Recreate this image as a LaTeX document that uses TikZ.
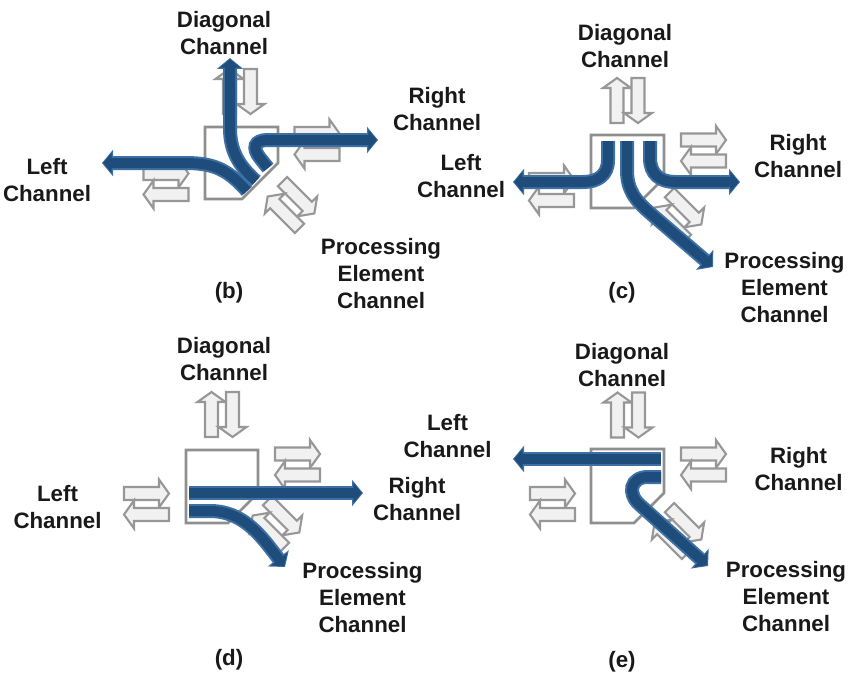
\documentclass[tikz,border=0pt]{standalone}
\usepackage{fontspec}
\setmainfont{Liberation Sans}
\usetikzlibrary{arrows.meta}
\definecolor{blueout}{HTML}{3F70A3}
\definecolor{bluein}{HTML}{1E4D7C}
\definecolor{pairline}{HTML}{979797}
\definecolor{pairfill}{HTML}{F1F1F1}
\definecolor{boxline}{HTML}{8F8F8F}
\tikzset{
 lbl/.style={font=\bfseries\fontsize{22.3}{27}\selectfont, align=center, inner sep=0pt, text=black!90},
 hollow/.style={draw=pairline, fill=pairfill, line width=2.1pt, line join=miter},
 routerbox/.style={draw=boxline, line width=2.8pt, line join=miter},
 flowout/.style={draw=blueout, line width=14pt, -{Triangle[width=26pt,length=11pt]}},
 flowin/.style={draw=bluein, line width=10pt, -{Triangle[width=20pt,length=8.5pt]}, shorten >=1.2pt},
}
\newcommand\chpair[3]{%
 \begin{scope}[shift={(#1,#2)},rotate=#3]
  \draw[hollow] (-22.5,-17) -- (12.5,-17) -- (12.5,-24.5) -- (22.5,-10.5) -- (12.5,3.5) -- (12.5,-4) -- (-22.5,-4) -- cycle;
  \draw[hollow] (22.5,4) -- (-12.5,4) -- (-12.5,-3.5) -- (-22.5,10.5) -- (-12.5,24.5) -- (-12.5,17) -- (22.5,17) -- cycle;
 \end{scope}}
\newcommand\routerbox[5]{%
 \draw[routerbox] (#1,#2) -- (#3,#2) -- (#3,{#4-#5}) -- ({#3-#5},#4) -- (#1,#4) -- cycle;}
\newcommand\flowpath[1]{\draw[flowout] #1; \draw[flowin] #1;}
\begin{document}
\begin{tikzpicture}[x=1pt,y=-1pt]
\useasboundingbox (0,0) rectangle (852,677);
% ---------- panel (b) ----------
\chpair{240}{91.5}{90}
\chpair{317}{144}{0}
\chpair{166}{184}{0}
\chpair{291}{205}{-45}
\routerbox{205}{127}{278}{199}{36}
\flowpath{(247,191) .. controls (228,170) and (215,163) .. (185,163) -- (102,163)}
\flowpath{(256,181) .. controls (238,165) and (230,150) .. (230,128) -- (230,58)}
\flowpath{(268,168) -- (260,158) .. controls (252,148) and (254,140) .. (268,140) -- (378,140)}
\node[lbl] (diagB) at (224,33.5) {Diagonal\\Channel};
\node[lbl] (rightB) at (437,109) {Right\\Channel};
\node[lbl] (leftB) at (47,180) {Left\\Channel};
\node[lbl] (peB) at (381,273.5) {Processing\\Element\\Channel};
\node[lbl] (capB) at (229,293) {(b)};
% ---------- panel (c) ----------
\chpair{627.5}{100.5}{90}
\chpair{703.5}{150.5}{0}
\chpair{551.5}{190}{0}
\chpair{678}{216}{-45}
\routerbox{591}{135}{664}{208}{30}
\flowpath{(608,141) -- (608,160) .. controls (608,175) and (598,182) .. (583,182) -- (513,182)}
\flowpath{(627,141) -- (627,170) .. controls (627,190) and (635,200) .. (650,213) -- (713,267)}
\flowpath{(650,141) -- (650,158) .. controls (650,174) and (660,182) .. (675,182) -- (740,182)}
\node[lbl] (diagC) at (625,46) {Diagonal\\Channel};
\node[lbl] (rightC) at (798,156.5) {Right\\Channel};
\node[lbl] (leftC) at (461,176) {Left\\Channel};
\node[lbl] (peC) at (784.5,287.5) {Processing\\Element\\Channel};
\node[lbl] (capC) at (622,293) {(c)};
% ---------- panel (d) ----------
\chpair{222}{414.5}{90}
\chpair{297.5}{464.5}{0}
\chpair{146.5}{504}{0}
\chpair{276}{524}{-45}
\routerbox{186}{450}{258}{523}{30}
\flowpath{(189,493) -- (363,493)}
\flowpath{(189,511) -- (210,511) .. controls (235,511) and (252,525) .. (268,545) -- (285,567)}
\node[lbl] (diagD) at (224,359) {Diagonal\\Channel};
\node[lbl] (rightD) at (417,499) {Right\\Channel};
\node[lbl] (leftD) at (57.5,507.5) {Left\\Channel};
\node[lbl] (peD) at (362.5,597.5) {Processing\\Element\\Channel};
\node[lbl] (capD) at (229,660) {(d)};
% ---------- panel (e) ----------
\chpair{628}{415}{90}
\chpair{703.5}{464.5}{0}
\chpair{552.5}{504}{0}
\chpair{678}{531}{-45}
\routerbox{591}{449}{664}{523}{30}
\flowpath{(661,459) -- (513,459)}
\flowpath{(661,477) -- (648,477) .. controls (630,477) and (627,494) .. (640,505) -- (708,566)}
\node[lbl] (diagE) at (622,365) {Diagonal\\Channel};
\node[lbl] (rightE) at (798.5,469) {Right\\Channel};
\node[lbl] (leftE) at (447.5,436) {Left\\Channel};
\node[lbl] (peE) at (786,597) {Processing\\Element\\Channel};
\node[lbl] (capE) at (622,662) {(e)};
\end{tikzpicture}
\end{document}
